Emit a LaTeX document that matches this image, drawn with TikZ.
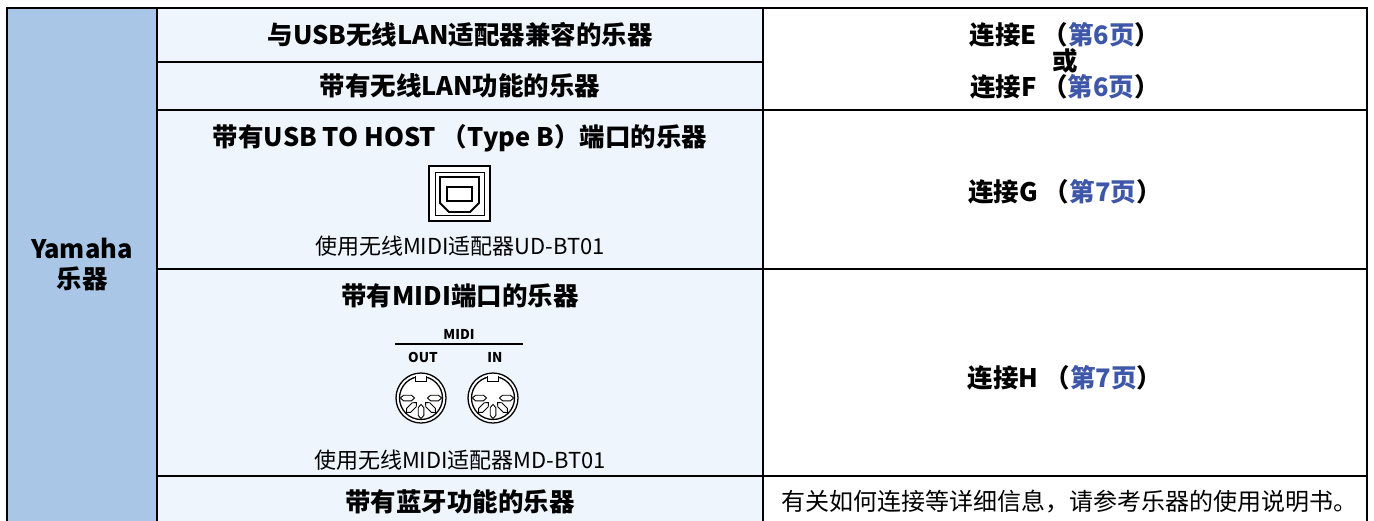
\documentclass[tikz,border=0pt]{standalone}
\usepackage{fontspec}
\setmainfont{Noto Sans CJK SC}
\definecolor{sidecol}{HTML}{A9C6E7}
\definecolor{midcol}{HTML}{EEF5FC}
\definecolor{pagecol}{HTML}{3E57A8}
\newcommand{\seepage}[1]{\textcolor{pagecol}{#1}}

\begin{document}
\begin{tikzpicture}[x=1pt,y=-1pt,
	grid/.style={line width=2.8pt},
	head/.style={font=\fontsize{25.5}{30}\selectfont\bfseries},
	note/.style={font=\fontsize{22}{26}\selectfont},
	tiny/.style={font=\fontsize{13.5}{15}\selectfont\bfseries}]
		\useasboundingbox (0,0) rectangle (1374,520);
		\clip (0,0) rectangle (1374,520);
		\fill[white] (0,0) rectangle (1374,520);
		\fill[sidecol] (7,8) rectangle (157,540);
		\fill[midcol] (157,8) rectangle (763,540);
		
		\draw[grid, line join=miter] (7,540) -- (7,8) -- (1367,8) -- (1367,540);
		\draw[grid] (157,8) -- (157,540);
		\draw[grid] (763,8) -- (763,540);
		\draw[grid] (157,62) -- (763,62);
		\foreach \y in {110,269,476}
			\draw[grid] (157,\y) -- (1367,\y);
		
		\node[head, align=center] (maker) at (82,265) {Yamaha\\乐器};
		
		\node[head] (lanusb) at (460,35) {与USB无线LAN适配器兼容的乐器};
		\node[head] (lanbuilt) at (460,86) {带有无线LAN功能的乐器};
		\node[head] (usbhost) at (460,138) {带有USB TO HOST （Type B）端口的乐器};
		\node[note] (udbt) at (460,246) {使用无线MIDI适配器UD-BT01};
		\node[head] (midiport) at (460,296) {带有MIDI端口的乐器};
		\node[note] (mdbt) at (460,460) {使用无线MIDI适配器MD-BT01};
		\node[head] (bluetooth) at (460,502) {带有蓝牙功能的乐器};
		
		\node[head, font=\fontsize{25.5}{26}\selectfont\bfseries, align=center] (connEF) at (1065,61) {连接E （\seepage{第6页}）\\或\\连接F （\seepage{第6页}）};
		\node[head] (connG) at (1065,192) {连接G （\seepage{第7页}）};
		\node[head] (connH) at (1065,378) {连接H （\seepage{第7页}）};
		\node[font=\fontsize{24}{30}\selectfont] (manual) at (1069,502) {有关如何连接等详细信息，请参考乐器的使用说明书。};
		
		\fill[white] (429,166) rectangle (490,221);
		\draw[line width=2.2pt] (429,166) rectangle (490,221);
		\draw[line width=0.9pt] (435,172) rectangle (484,215);
		\draw[line width=1.8pt] (440,177) -- (479,177) -- (479,203) -- (470,212) -- (449,212) -- (440,203) -- cycle;
		\draw[line width=1.3pt] (447,187) rectangle (472,201);
		
		\node[tiny] (miditag) at (459,334) {MIDI};
		\draw[line width=1.5pt] (395,344) -- (523,344);
		\foreach \cx/\name/\txt in {421/midiout/OUT, 493/midiin/IN} {
			\node[tiny] (\name) at (\cx+2,357) {\txt};
			\fill[white] (\cx,398) circle (25);
			\draw[line width=1.3pt] (\cx,398) circle (25);
			\draw[line width=1.3pt] (\cx,398) circle (21.5);
			\fill[white] (\cx-4.6,374.5) rectangle (\cx+4.6,381);
			\draw[line width=1.1pt] (\cx-5.2,376.2) -- (\cx-5.2,381.5) -- (\cx+5.2,381.5) -- (\cx+5.2,376.2);
			\foreach \a in {0,45,...,180}
				\draw[line width=0.9pt, shift={(\cx,398)}, shift={(\a:13.5)}, rotate=-\a] (-7,0) -- (-4,-2.8) -- (4,-2.8) -- (7,0) -- (4,2.8) -- (-4,2.8) -- cycle;
		}
		
		\end{tikzpicture}
\end{document}
